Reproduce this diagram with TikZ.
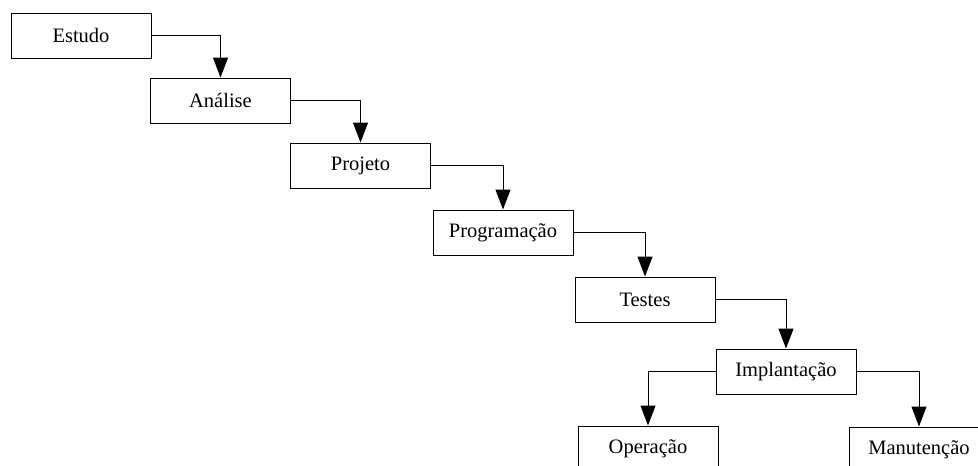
\documentclass[tikz,border=0pt]{standalone}
\usepackage{fontspec}
\setmainfont{Liberation Serif}
\usetikzlibrary{arrows.meta}
\begin{document}
\begin{tikzpicture}[x=1pt,y=-1pt,
  stepbox/.style={draw,line width=1pt,minimum width=140pt,minimum height=45pt,inner sep=0pt,font=\fontsize{20.5pt}{24pt}\selectfont},
  conn/.style={line width=1pt,-{Triangle[width=15pt,length=20pt]}}]
\useasboundingbox (0,0) rectangle (978,466);
\clip (0,0) rectangle (978,466);
\fill[white] (0,0) rectangle (978,466);
\node[stepbox] (estudo) at (81,35.5) {Estudo};
\node[stepbox] (analise) at (220.5,100.5) {Análise};
\node[stepbox] (projeto) at (360.5,165.5) {Projeto};
\node[stepbox] (prog) at (503,232.5) {Programação};
\node[stepbox] (testes) at (645,299.5) {Testes};
\node[stepbox] (impl) at (786,371.5) {Implantação};
\node[stepbox] (oper) at (648,448.5) {Operação};
\node[stepbox] (manut) at (919,449.5) {Manutenção};
\draw[conn] (estudo.east) -| (analise.north);
\draw[conn] (analise.east) -| (projeto.north);
\draw[conn] (projeto.east) -| (prog.north);
\draw[conn] (prog.east) -| (testes.north);
\draw[conn] (testes.east) -| (impl.north);
\draw[conn] (impl.west) -| (oper.north);
\draw[conn] (impl.east) -| (manut.north);
\end{tikzpicture}
\end{document}
